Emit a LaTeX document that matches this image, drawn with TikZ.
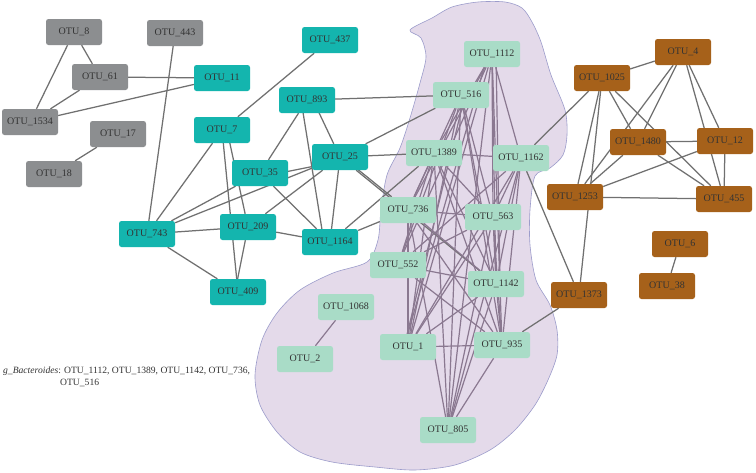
\documentclass[tikz,border=0pt]{standalone}
\usepackage{fontspec}
\setmainfont{Liberation Serif}
\definecolor{cgray}{HTML}{8C8E90}
\definecolor{cteal}{HTML}{14B5AE}
\definecolor{cmint}{HTML}{A9DCC7}
\definecolor{cbrown}{HTML}{A6611A}
\definecolor{blobfill}{HTML}{E4DAEA}
\definecolor{blobline}{HTML}{9C9CCB}
\definecolor{edgeout}{HTML}{707070}
\definecolor{edgein}{HTML}{8A7890}
\definecolor{txt}{HTML}{333333}
\pgfdeclarelayer{bglayer}
\pgfdeclarelayer{edgelayer}
\pgfsetlayers{bglayer,edgelayer,main}
\tikzset{
  otu/.style={rectangle, rounded corners=2.5pt, minimum width=56pt, minimum height=26pt,
    inner sep=0pt, text=txt, font=\fontsize{10}{12}\selectfont},
  gr/.style={otu, fill=cgray},
  te/.style={otu, fill=cteal},
  mi/.style={otu, fill=cmint},
  br/.style={otu, fill=cbrown},
  eo/.style={draw=edgeout, line width=1.25pt},
  ei/.style={draw=edgein, line width=1.2pt},
}
\begin{document}
\begin{tikzpicture}[x=1pt,y=-1pt]
\useasboundingbox (0,0) rectangle (756,472);
\begin{pgfonlayer}{bglayer}
\fill[white] (0,0) rectangle (756,472);
\draw[fill=blobfill, draw=blobline, line width=0.6pt] plot[smooth cycle, tension=0.5] coordinates {
(410,30) (432,18) (452,7) (478,2) (505,2) (522,8) (532,22) (541,42) (551,75) (565,110) (567,135) (563,155) (550,168) (535,176) (530,210) (530,245) (536,280) (550,305) (557,330) (557,355) (548,380) (535,405) (515,430) (490,450) (455,465) (415,470) (375,467) (332,462) (300,452) (277,432) (260,405) (255,375) (262,340) (277,313) (300,290) (333,273) (367,262) (378,240) (381,210) (387,175) (400,148) (410,118) (420,83) (426,57) (421,38)};
\end{pgfonlayer}
% nodes
\node[gr] (n8) at (74,32) {OTU\_8};
\node[gr] (n443) at (175,33) {OTU\_443};
\node[gr] (n61) at (100,77) {OTU\_61};
\node[gr] (n1534) at (30,122) {OTU\_1534};
\node[gr] (n17) at (118,134) {OTU\_17};
\node[gr] (n18) at (54,174) {OTU\_18};
\node[te] (n11) at (222,78) {OTU\_11};
\node[te] (n7) at (222,130) {OTU\_7};
\node[te] (n437) at (330,40) {OTU\_437};
\node[te] (n893) at (307,100) {OTU\_893};
\node[te] (n25) at (340,157) {OTU\_25};
\node[te] (n35) at (260,173) {OTU\_35};
\node[te] (n743) at (147,234) {OTU\_743};
\node[te] (n209) at (248,227) {OTU\_209};
\node[te] (n1164) at (330,242) {OTU\_1164};
\node[te] (n409) at (238,292) {OTU\_409};
\node[mi] (n1112) at (492,54) {OTU\_1112};
\node[mi] (n516) at (461,95) {OTU\_516};
\node[mi] (n1389) at (434,153) {OTU\_1389};
\node[mi] (n1162) at (521,158) {OTU\_1162};
\node[mi] (n736) at (408,210) {OTU\_736};
\node[mi] (n563) at (493,217) {OTU\_563};
\node[mi] (n552) at (398,265) {OTU\_552};
\node[mi] (n1142) at (496,284) {OTU\_1142};
\node[mi] (n1068) at (346,307) {OTU\_1068};
\node[mi] (n2) at (305,359) {OTU\_2};
\node[mi] (n1) at (408,347) {OTU\_1};
\node[mi] (n935) at (502,345) {OTU\_935};
\node[mi] (n805) at (448,430) {OTU\_805};
\node[br] (n4) at (683,52) {OTU\_4};
\node[br] (n1025) at (602,78) {OTU\_1025};
\node[br] (n1480) at (638,142) {OTU\_1480};
\node[br] (n12) at (725,141) {OTU\_12};
\node[br] (n1253) at (575,197) {OTU\_1253};
\node[br] (n455) at (724,199) {OTU\_455};
\node[br] (n6) at (680,244) {OTU\_6};
\node[br] (n38) at (667,286) {OTU\_38};
\node[br] (n1373) at (579,295) {OTU\_1373};
% edges
\begin{pgfonlayer}{edgelayer}
% gray / teal
\draw[eo] (n8) -- (n61);
\draw[eo] (n8) -- (n1534);
\draw[eo] (n61) -- (n1534);
\draw[eo] (n61) -- (n11);
\draw[eo] (n1534) -- (n11);
\draw[eo] (n17) -- (n18);
\draw[eo] (n443) -- (n743);
\draw[eo] (n437) -- (n7);
\draw[eo] (n7) -- (n743);
\draw[eo] ([xshift=5pt]n7.center) -- (n209);
\draw[eo] (n7) -- (n409);
\draw[eo] (n743) -- (n209);
\draw[eo] (n743) -- (n409);
\draw[eo] (n743) -- (n25);
\draw[eo] (n743) -- (n35);
\draw[eo] (n209) -- ([xshift=-3pt]n409.center);
\draw[eo] (n209) -- (n25);
\draw[eo] (n209) -- (n1164);
\draw[eo] (n35) -- (n893);
\draw[eo] ([yshift=-4pt]n35.center) -- ([yshift=-4pt]n25.center);
\draw[eo] (n35) -- (n1164);
\draw[eo] ([xshift=-6pt]n893.center) -- ([xshift=-6pt]n1164.center);
\draw[eo] ([xshift=6pt]n893.center) -- (n25);
\draw[eo] (n25) -- (n1164);
\draw[eo] (n893) -- (n516);
\draw[eo] (n25) -- (n1389);
\draw[eo] (n25) -- (n516);
\draw[eo] (n1164) -- (n736);
\draw[eo] (n1164) -- (n1389);
\draw[eo] (n25) -- (n1142);
\draw[eo] ([yshift=2pt]n25.center) -- (n736);
% brown
\draw[eo] (n4) -- (n1025);
\draw[eo] (n4) -- (n1480);
\draw[eo] (n4) -- (n1253);
\draw[eo] (n4) -- (n12);
\draw[eo] (n4) -- (n455);
\draw[eo] (n1025) -- (n1480);
\draw[eo] (n1025) -- (n455);
\draw[eo] (n1025) -- (n1253);
\draw[eo] (n1025) -- (n1373);
\draw[eo] (n1025) -- (n1162);
\draw[eo] (n1480) -- (n12);
\draw[eo] (n1480) -- (n455);
\draw[eo] (n1480) -- (n1253);
\draw[eo] (n12) -- (n1253);
\draw[eo] (n12) -- (n455);
\draw[eo] (n1253) -- (n455);
\draw[eo] (n6) -- (n38);
\draw[eo] (n1162) -- (n1373);
\draw[eo] (n1373) -- (n935);
% cluster
\draw[ei] (n1068) -- (n2);
\foreach \b in {n1389,n736,n552,n1,n805,n563,n1142,n935,n1162}
  \draw[ei] (n1112) -- (\b);
\draw[ei] ([xshift=-4pt]n1112.center) -- ([xshift=-4pt]n1.center);
\draw[ei] ([xshift=4pt]n1112.center) -- ([xshift=4pt]n1142.center);
\foreach \b in {n736,n552,n1,n805,n563,n1142,n935}
  \draw[ei] (n516) -- (\b);
\draw[ei] ([xshift=4pt]n516.center) -- ([xshift=-4pt]n1.center);
\foreach \b in {n736,n552,n1,n805,n563,n1142,n935,n1162}
  \draw[ei] (n1389) -- (\b);
\foreach \b in {n563,n1142,n935,n1,n805,n552}
  \draw[ei] (n1162) -- (\b);
\foreach \b in {n563,n1142,n935,n1,n805}
  \draw[ei] (n736) -- (\b);
\foreach \b in {n552,n1,n805,n935,n1142}
  \draw[ei] (n563) -- (\b);
\draw[ei] (n552) -- (n1142);
\draw[ei] (n552) -- (n935);
\draw[ei] (n1142) -- (n1);
\draw[ei] (n1142) -- (n805);
\draw[ei] (n1142) -- (n935);
\draw[ei] (n1) -- (n935);
\draw[ei] (n935) -- (n805);
\end{pgfonlayer}
\node[font=\fontsize{9.6}{11.5}\selectfont, text=txt, anchor=north west, align=left, inner sep=0pt] (leg) at (3,367)
  {\textit{g\_Bacteroides}: OTU\_1112, OTU\_1389, OTU\_1142, OTU\_736,\\\hspace*{57pt}OTU\_516};
\end{tikzpicture}
\end{document}
